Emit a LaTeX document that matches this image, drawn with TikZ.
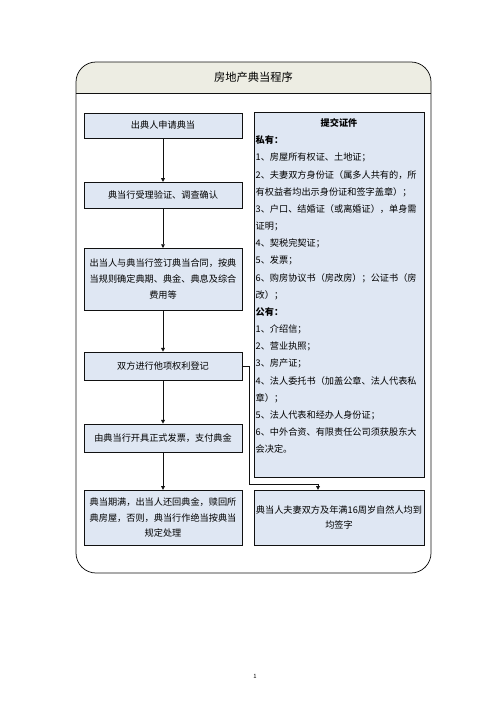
\documentclass[tikz,border=0pt]{standalone}
\usepackage{fontspec}
\setmainfont{Noto Sans CJK SC}
\usepackage{xcolor}
\usepackage{tikz}
\usetikzlibrary{arrows.meta,positioning}
\definecolor{pawnline}{HTML}{111111}
\definecolor{pawnfill}{HTML}{DFE7F3}
\definecolor{pawnhead}{HTML}{EDEDE3}

\begin{document}
\begin{tikzpicture}[
  x=1.2pt,y=-1.2pt,
  font=\fontsize{11pt}{19pt}\selectfont,
  flow/.style={draw=pawnline,fill=pawnfill,minimum width=189pt,align=center,inner sep=2pt},
  side/.style={draw=pawnline,fill=pawnfill,minimum width=204pt,align=center,inner sep=2pt},
  arr/.style={-{Triangle[length=4.5pt,width=4.5pt]},draw=pawnline,line width=1pt}
]
\useasboundingbox (0,0) rectangle (496,702);

% outer frame with title band
\begin{scope}
  \clip (70,55) rectangle (440,93);
  \fill[pawnhead,rounded corners=24pt] (76,62) rectangle (431,573);
\end{scope}
\draw[pawnline,line width=0.9pt,rounded corners=24pt] (76,62) rectangle (431,573);
\draw[pawnline,line width=0.9pt] (76,93) -- (431,93);
\node[font=\fontsize{13.5pt}{16pt}\selectfont] (title) at (253.5,77.5) {房地产典当程序};

% left column
\node[flow,minimum height=30pt] (apply) at (163,125.5) {出典人申请典当};
\node[flow,minimum height=31pt] (check) at (163,195) {典当行受理验证、调查确认};
\node[flow,minimum height=74pt] (contract) at (163,279) {出当人与典当行签订典当合同，按典\\当规则确定典期、典金、典息及综合\\费用等};
\node[flow,minimum height=34pt] (register) at (163,366) {双方进行他项权利登记};
\node[flow,minimum height=34pt] (invoice) at (163,438) {由典当行开具正式发票，支付典金};
\node[flow,minimum height=66pt] (expire) at (163,517.5) {典当期满，出当人还回典金，赎回所\\典房屋，否则，典当行作绝当按典当\\规定处理};

% right column
\node[side,minimum height=438pt] (docs) at (339,294.5) {};
\node[anchor=north,text width=200pt,align=left,inner sep=1pt,
  font=\fontsize{11pt}{20.6pt}\selectfont] (doclist) at ([yshift=-7pt]docs.north) {%
\makebox[\linewidth]{\bfseries 提交证件}\\
{\bfseries 私有：}\\
1、房屋所有权证、土地证；\\
2、夫妻双方身份证（属多人共有的，所\\
有权益者均出示身份证和签字盖章）；\\
3、户口、结婚证（或离婚证），单身需\\
证明；\\
4、契税完契证；\\
5、发票；\\
6、购房协议书（房改房）；公证书（房\\
改）；\\
{\bfseries 公有：}\\
1、介绍信；\\
2、营业执照；\\
3、房产证；\\
4、法人委托书（加盖公章、法人代表私\\
章）；\\
5、法人代表和经办人身份证；\\
6、中外合资、有限责任公司须获股东大\\
会决定。};
\node[side,minimum height=66pt] (sign) at (339,517.5) {典当人夫妻双方及年满16周岁自然人均到\\均签字};

\draw[arr] (apply) -- (check);
\draw[arr] (check) -- (contract);
\draw[arr] (contract) -- (register);
\draw[arr] (register) -- (invoice);
\draw[arr] (invoice) -- (expire);
\coordinate (bend) at (249,484);
\coordinate (drop) at (318,484);
\draw[arr] (register.east) -| (bend) -- (drop) -- (drop |- sign.north);

\node[font=\fontsize{7pt}{8pt}\selectfont] (pagenum) at (255,676) {1};
\end{tikzpicture}
\end{document}
